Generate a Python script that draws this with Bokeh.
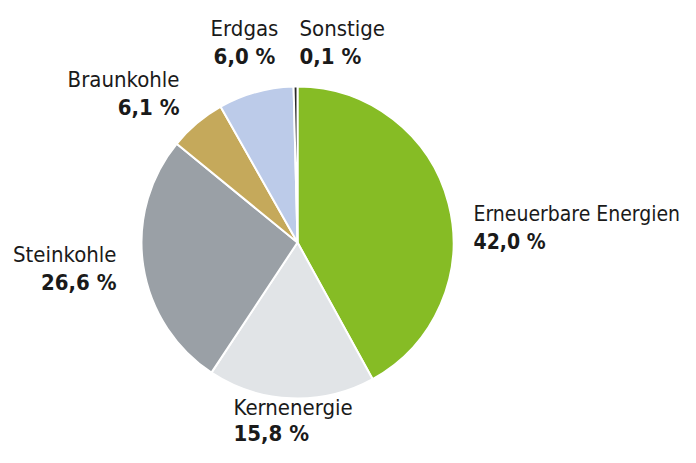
import math
from bokeh.plotting import figure
from bokeh.models import ColumnDataSource
from bokeh.core.properties import value
from bokeh.embed import file_html
from bokeh.resources import INLINE

# ---- data ----
categories = ["Erneuerbare Energien", "Kernenergie", "Steinkohle", "Braunkohle", "Erdgas", "Sonstige"]
shares = [42.0, 17.3, 26.6, 5.9, 7.8, 0.4]          # slice sizes as drawn
share_labels = ["42,0 %", "15,8 %", "26,6 %", "6,1 %", "6,0 %", "0,1 %"]  # printed values
colors = ["#86bc25", "#e1e4e7", "#9aa0a6", "#c5a95b", "#bccbe9", "#2b2b2b"]

# ---- layout (pixel space, y measured from top) ----
W, H = 680, 447
CX, CY, R = 297, 242, 156
label_pos = [  # (x, baseline of first line from top, align, font size px, line step)
    (473, 221, "left", 21, 28),
    (233, 415, "left", 22, 26),
    (116, 262, "right", 22, 28),
    (179, 87, "right", 22, 28),
    (244, 36, "center", 22, 28),
    (299, 36, "left", 22, 28),
]
BASE_FIX = 8   # bokeh's alphabetic anchor sits this much below the glyph baseline
FONT = "DejaVu Sans Condensed, Roboto, sans-serif"

total = sum(shares)
starts, ends = [], []
cum = 0.0
for s in shares:
    starts.append(math.pi / 2 - 2 * math.pi * (cum + s) / total)
    ends.append(math.pi / 2 - 2 * math.pi * cum / total)
    cum += s

src = ColumnDataSource(dict(x=[CX] * len(shares), y=[H - CY] * len(shares),
                            start=starts, end=ends, color=colors, cat=categories))

p = figure(width=W, height=H, x_range=(0, W), y_range=(0, H),
           output_backend="svg", toolbar_location=None, min_border=0)
p.axis.visible = False
p.grid.visible = False
p.outline_line_color = None
p.background_fill_color = "white"

p.wedge(x="x", y="y", radius=R, radius_units="data", start_angle="start", end_angle="end",
        fill_color="color", line_color="white", line_width=2, source=src)

for name, lab, (lx, ly, al, fs, step) in zip(categories, share_labels, label_pos):
    y0 = H - (ly - BASE_FIX)
    p.text(x=[lx], y=[y0], text=[name], text_align=al, text_baseline="alphabetic",
           text_font=value(FONT), text_font_size=f"{fs}px", text_color="#1a1a1a")
    p.text(x=[lx], y=[y0 - step], text=[lab], text_align=al, text_baseline="alphabetic",
           text_font=value(FONT), text_font_size=f"{fs}px", text_font_style="bold",
           text_color="#1a1a1a")

open("out.html", "w").write(file_html(p, INLINE))
